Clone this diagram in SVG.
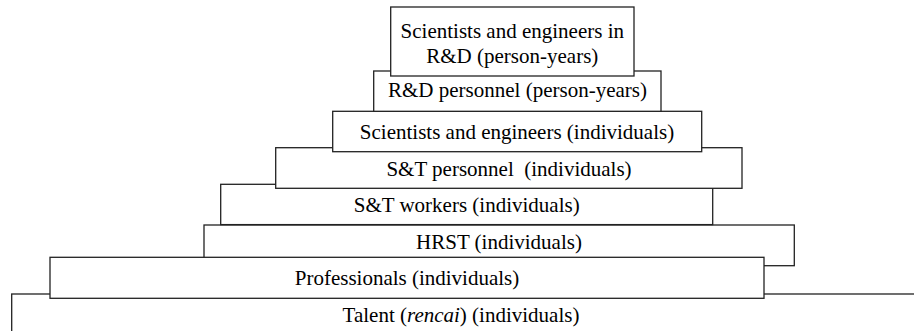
<svg xmlns="http://www.w3.org/2000/svg" width="914" height="331" viewBox="0 0 914 331">
  <style>
    .box { fill: #ffffff; stroke: #222222; stroke-width: 1.3; }
    .lbl { font-family: "Liberation Serif", "Times New Roman", serif; font-size: 21px; fill: #000000; text-anchor: middle; }
  </style>
  <rect x="0" y="0" width="914" height="331" fill="#ffffff"/>

  <!-- bottom tier: open to the right and bottom -->
  <g id="talent">
    <rect class="box" x="11.7" y="294" width="920" height="60"/>
    <text class="lbl" x="461" y="321.5">Talent (<tspan font-style="italic">rencai</tspan>) (individuals)</text>
  </g>

  <g id="hrst">
    <rect class="box" x="204" y="225" width="590.3" height="40.7"/>
    <text class="lbl" x="499" y="249.3">HRST (individuals)</text>
  </g>

  <g id="professionals">
    <rect class="box" x="50" y="257.3" width="714" height="41"/>
    <text class="lbl" x="407" y="285">Professionals (individuals)</text>
  </g>

  <g id="st-workers">
    <rect class="box" x="220.7" y="184.3" width="492" height="40.3"/>
    <text class="lbl" x="466.7" y="211.7">S&amp;T workers (individuals)</text>
  </g>

  <g id="st-personnel">
    <rect class="box" x="275.7" y="147.7" width="466.3" height="40.6"/>
    <text class="lbl" x="509" y="176" xml:space="preserve">S&amp;T personnel  (individuals)</text>
  </g>

  <g id="scientists-engineers">
    <rect class="box" x="332.7" y="111.3" width="369" height="40.4"/>
    <text class="lbl" x="517" y="139.3">Scientists and engineers (individuals)</text>
  </g>

  <g id="rd-personnel">
    <rect class="box" x="373.7" y="71" width="287.3" height="40.3"/>
    <text class="lbl" x="517.5" y="96.7">R&amp;D personnel (person-years)</text>
  </g>

  <g id="rd-scientists">
    <rect class="box" x="390.7" y="7" width="243.3" height="69"/>
    <text class="lbl" x="512.3" y="37.7">Scientists and engineers in</text>
    <text class="lbl" x="512.3" y="62.7">R&amp;D (person-years)</text>
  </g>

  <g id="connectors"></g>
</svg>
